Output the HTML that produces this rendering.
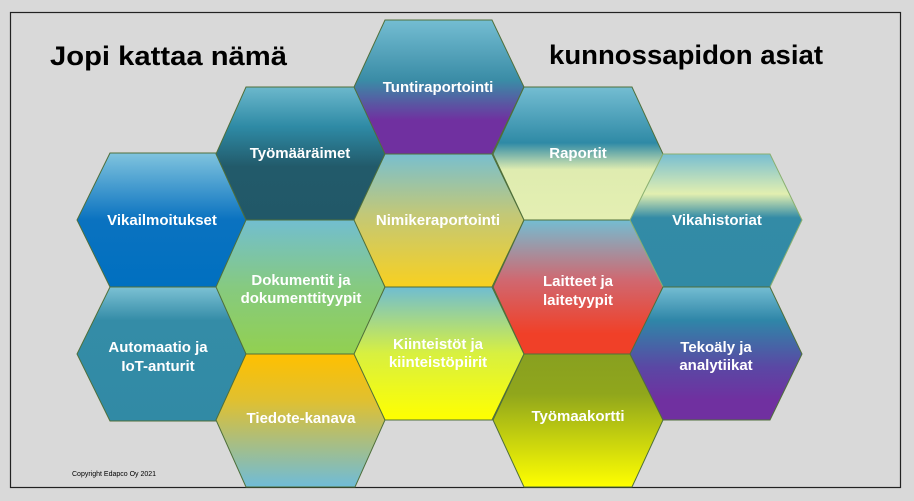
<!DOCTYPE html>
<html><head><meta charset="utf-8"><style>
html,body{margin:0;padding:0;background:#d9d9d9;}
svg{display:block;}
text{font-family:"Liberation Sans","DejaVu Sans",sans-serif;}
.l{fill:#fff;font-weight:bold;font-size:15px;text-anchor:middle;}
</style></head><body>
<svg width="914" height="501" viewBox="0 0 914 501" xmlns="http://www.w3.org/2000/svg">
<defs>
<linearGradient id="gTunti" x1="0" y1="0" x2="0" y2="1"><stop offset="0" stop-color="#74bdd2"/><stop offset="0.45" stop-color="#3a8ca6"/><stop offset="0.75" stop-color="#7030a0"/><stop offset="1" stop-color="#7030a0"/></linearGradient>
<linearGradient id="gRap" x1="0" y1="0" x2="0" y2="1"><stop offset="0" stop-color="#74bdd2"/><stop offset="0.42" stop-color="#2f8aa6"/><stop offset="0.62" stop-color="#dfecb0"/><stop offset="1" stop-color="#e4efb2"/></linearGradient>
<linearGradient id="gNim" x1="0" y1="0" x2="0" y2="1"><stop offset="0" stop-color="#78bfcf"/><stop offset="0.45" stop-color="#c2c878"/><stop offset="1" stop-color="#f8d020"/></linearGradient>
<linearGradient id="gTyo" x1="0" y1="0" x2="0" y2="1"><stop offset="0" stop-color="#6cb8cc"/><stop offset="0.3" stop-color="#2e8aa5"/><stop offset="0.6" stop-color="#225a6a"/><stop offset="1" stop-color="#215868"/></linearGradient>
<linearGradient id="gVik" x1="0" y1="0" x2="0" y2="1"><stop offset="0" stop-color="#80c4de"/><stop offset="0.5" stop-color="#0a72c0"/><stop offset="1" stop-color="#0070c0"/></linearGradient>
<linearGradient id="gDok" x1="0" y1="0" x2="0" y2="1"><stop offset="0" stop-color="#72bed0"/><stop offset="0.5" stop-color="#86ca80"/><stop offset="1" stop-color="#92d050"/></linearGradient>
<linearGradient id="gAut" x1="0" y1="0" x2="0" y2="1"><stop offset="0" stop-color="#7cc1d4"/><stop offset="0.25" stop-color="#348ca7"/><stop offset="1" stop-color="#318aa5"/></linearGradient>
<linearGradient id="gTied" x1="0" y1="0" x2="0" y2="1"><stop offset="0" stop-color="#ffc000"/><stop offset="0.35" stop-color="#e0c030"/><stop offset="1" stop-color="#6fbcd8"/></linearGradient>
<linearGradient id="gKii" x1="0" y1="0" x2="0" y2="1"><stop offset="0" stop-color="#6fbdd2"/><stop offset="0.5" stop-color="#d8f040"/><stop offset="1" stop-color="#ffff00"/></linearGradient>
<linearGradient id="gLai" x1="0" y1="0" x2="0" y2="1"><stop offset="0" stop-color="#74bdd2"/><stop offset="0.45" stop-color="#d06870"/><stop offset="0.85" stop-color="#f04028"/><stop offset="1" stop-color="#f04028"/></linearGradient>
<linearGradient id="gTmk" x1="0" y1="0" x2="0" y2="1"><stop offset="0" stop-color="#88a020"/><stop offset="0.3" stop-color="#90a61c"/><stop offset="1" stop-color="#ffff00"/></linearGradient>
<linearGradient id="gVh" x1="0" y1="0" x2="0" y2="1"><stop offset="0" stop-color="#78bed2"/><stop offset="0.3" stop-color="#e2efb0"/><stop offset="0.48" stop-color="#338ba6"/><stop offset="1" stop-color="#318aa5"/></linearGradient>
<linearGradient id="gTek" x1="0" y1="0" x2="0" y2="1"><stop offset="0" stop-color="#74bdd2"/><stop offset="0.25" stop-color="#2f86a8"/><stop offset="0.6" stop-color="#5a48a4"/><stop offset="0.85" stop-color="#7030a0"/><stop offset="1" stop-color="#7030a0"/></linearGradient>
</defs>
<rect x="0" y="0" width="914" height="501" fill="#d9d9d9"/>
<rect x="10.5" y="12.5" width="890" height="475" fill="none" stroke="#222" stroke-width="1.2"/>
<text x="50" y="65" font-size="27" font-weight="bold" fill="#000" textLength="237" lengthAdjust="spacingAndGlyphs">Jopi kattaa nämä</text>
<text x="549" y="64" font-size="27" font-weight="bold" fill="#000" textLength="274" lengthAdjust="spacingAndGlyphs">kunnossapidon asiat</text>
<text x="72" y="476" font-size="7" fill="#000">Copyright Edapco Oy 2021</text>
<g stroke="#4f6f3a" stroke-width="1">
<polygon points="110,153 217,153 247,220 217,287 110,287 77,220" fill="url(#gVik)"/>
<polygon points="110,287 217,287 247,354 217,421 110,421 77,354" fill="url(#gAut)"/>
<polygon points="246,87 355,87 385,154 355,220 246,220 216,154" fill="url(#gTyo)"/>
<polygon points="246,220 355,220 385,287 355,354 246,354 216,287" fill="url(#gDok)"/>
<polygon points="246,354 355,354 385,420 355,487 246,487 216,420" fill="url(#gTied)"/>
<polygon points="385,20 492,20 524,87 492,154 385,154 354,87" fill="url(#gTunti)"/>
<polygon points="385,154 492,154 524,220 492,287 385,287 354,220" fill="url(#gNim)"/>
<polygon points="385,287 492,287 524,354 492,420 385,420 354,354" fill="url(#gKii)"/>
<polygon points="524,87 632,87 663,154 632,220 524,220 493,154" fill="url(#gRap)"/>
<polygon points="524,220 632,220 663,287 632,354 524,354 493,287" fill="url(#gLai)"/>
<polygon points="524,354 632,354 663,420 632,487 524,487 493,420" fill="url(#gTmk)"/>
<polygon points="663,154 770,154 802,220 770,287 663,287 630,220" fill="url(#gVh)" stroke="#8ab070"/>
<polygon points="663,287 770,287 802,354 770,420 663,420 630,354" fill="url(#gTek)"/>
</g>
<text class="l" x="162" y="225">Vikailmoitukset</text>
<text class="l" x="158" y="352">Automaatio ja</text>
<text class="l" x="158" y="371">IoT-anturit</text>
<text class="l" x="300" y="158">Työmääräimet</text>
<text class="l" x="301" y="285">Dokumentit ja</text>
<text class="l" x="301" y="303">dokumenttityypit</text>
<text class="l" x="301" y="423">Tiedote-kanava</text>
<text class="l" x="438" y="92">Tuntiraportointi</text>
<text class="l" x="438" y="225">Nimikeraportointi</text>
<text class="l" x="438" y="349">Kiinteistöt ja</text>
<text class="l" x="438" y="367">kiinteistöpiirit</text>
<text class="l" x="578" y="158">Raportit</text>
<text class="l" x="578" y="286">Laitteet ja</text>
<text class="l" x="578" y="305">laitetyypit</text>
<text class="l" x="578" y="421">Työmaakortti</text>
<text class="l" x="717" y="225">Vikahistoriat</text>
<text class="l" x="716" y="352">Tekoäly ja</text>
<text class="l" x="716" y="370">analytiikat</text>
</svg>
</body></html>
